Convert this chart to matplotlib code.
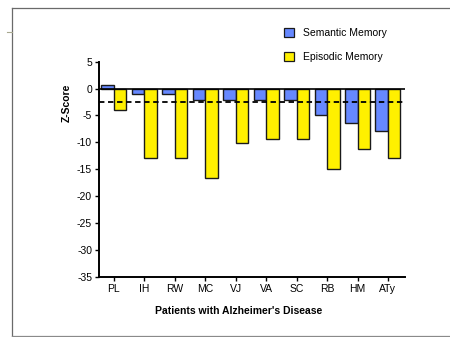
import numpy as np
import matplotlib
matplotlib.use("Agg")
import matplotlib.pyplot as plt
from matplotlib.lines import Line2D
from matplotlib.patches import Patch

plt.rcParams['font.family'] = ['Liberation Sans', 'DejaVu Sans']
plt.rcParams['axes.unicode_minus'] = False

patients = ['PL', 'IH', 'RW', 'MC', 'VJ', 'VA', 'SC', 'RB', 'HM', 'ATy']
semantic = [0.75, -1.0, -1.0, -2.2, -2.2, -2.2, -2.2, -4.9, -6.4, -7.9]
episodic = [-3.9, -13.0, -13.0, -16.6, -10.2, -9.4, -9.4, -14.9, -11.2, -13.0]
cutoff = -2.55

sem_col = '#6688FF'
epi_col = '#FFF000'

fig = plt.figure(figsize=(4.5, 3.37), dpi=100)
ax = fig.add_axes([0.22, 0.179, 0.68, 0.638])

x = np.arange(len(patients))
w = 0.41
ax.bar(x - w / 2, semantic, w, color=sem_col, edgecolor='#1a1a1a', linewidth=1.0, zorder=2)
ax.bar(x + w / 2, episodic, w, color=epi_col, edgecolor='#1a1a1a', linewidth=1.0, zorder=2)

ax.axhline(0, color='black', lw=1.2, zorder=3)
ax.axhline(cutoff, color='black', lw=1.3, dashes=(3, 2), zorder=4)

ax.set_xlim(-0.49, 9.56)
ax.set_ylim(-35, 5)
ax.set_yticks(np.arange(-35, 6, 5))
ax.set_xticks(x)
ax.set_xticklabels(patients)

for s in ['top', 'right']:
    ax.spines[s].set_visible(False)
for s in ['left', 'bottom']:
    ax.spines[s].set_linewidth(1.4)
ax.tick_params(direction='out', length=3, width=1, labelsize=7.5, pad=2)

ax.set_ylabel('Z-Score', fontsize=7.5, fontweight='bold')
ax.yaxis.set_label_coords(-0.088, 0.81)
ax.set_xlabel("Patients with Alzheimer's Disease", fontsize=7.5, fontweight='bold')
ax.xaxis.set_label_coords(0.457, -0.135)

handles = [Patch(facecolor=sem_col, edgecolor='#1a1a1a', linewidth=0.9),
           Patch(facecolor=epi_col, edgecolor='#1a1a1a', linewidth=0.9)]
fig.legend(handles, ['Semantic Memory', 'Episodic Memory'], loc='upper left',
           bbox_to_anchor=(0.631, 0.917), frameon=False, fontsize=7.5,
           handlelength=0.95, handleheight=0.95, handletextpad=0.85,
           labelspacing=1.3, borderpad=0, borderaxespad=0)

# page frame around the panel
W, H = 450.0, 337.0
frame = dict(color='#6a6a6a', lw=0.9, transform=fig.transFigure)
fig.add_artist(Line2D([12 / W, 12 / W], [1 - 8 / H, 1 - 335.5 / H], **frame))
fig.add_artist(Line2D([12 / W, 1.0], [1 - 8 / H, 1 - 8 / H], **frame))
fig.add_artist(Line2D([12 / W, 1.0], [1 - 335.5 / H, 1 - 335.5 / H], color='#8a8a8a', lw=0.9,
                      transform=fig.transFigure))
fig.add_artist(Line2D([7 / W, 12 / W], [1 - 32 / H, 1 - 32 / H], color='#a8a890', lw=0.8,
                      transform=fig.transFigure))

fig.savefig('out.png', dpi=100)
